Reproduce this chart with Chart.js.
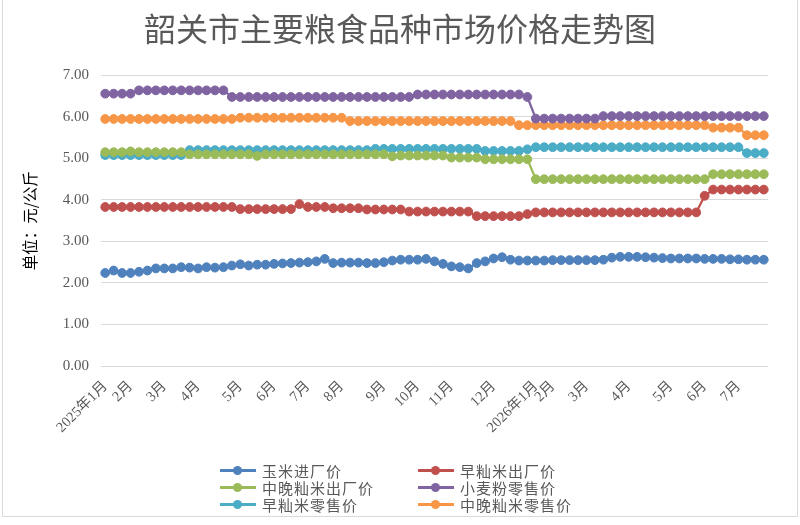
<!DOCTYPE html>
<html lang="zh-CN">
<head>
    <meta charset="UTF-8">
    <title>韶关市主要粮食品种市场价格走势图</title>
    <script src="https://cdn.jsdelivr.net/npm/chart.js"></script>
    <style>
        body {
            margin: 0;
            background: #ffffff;
            font-family: "Noto Sans CJK SC", sans-serif;
        }
        .wrap {
            position: relative;
            width: 800px;
            height: 525px;
        }
        .frame {
            position: absolute;
            left: 2px;
            top: -1px;
            width: 794px;
            height: 517px;
            border: 1px solid #d9d9d9;
            border-top: none;
            pointer-events: none;
        }
        .legend {
            position: absolute;
            left: 220px;
            top: 462px;
            display: grid;
            grid-template-columns: 198px 200px;
            row-gap: 0px;
        }
        .legend-item {
            display: flex;
            align-items: center;
            height: 17px;
            font-size: 15px;
            letter-spacing: 1px;
            color: #595959;
        }
        .legend-mark {
            position: relative;
            width: 36px;
            height: 3px;
            margin-right: 6px;
        }
        .legend-mark span {
            position: absolute;
            left: 13px;
            top: -3px;
            width: 9px;
            height: 9px;
            border-radius: 50%;
        }
    </style>
</head>
<body>
    <div class="wrap">
        <canvas id="priceChart" width="800" height="525"></canvas>
        <div class="legend" id="legend"></div>
        <div class="frame"></div>
    </div>

    <script>
        // 周度监测，标签只在每月第一周显示
        const weekLabels = [
            '2025年1月', '', '', '2月', '', '', '', '3月', '', '', '',
            '4月', '', '', '', '', '5月', '', '', '', '6月', '', '', '',
            '7月', '', '', '', '8月', '', '', '', '', '9月', '', '', '',
            '10月', '', '', '', '11月', '', '', '', '', '12月', '', '', '', '',
            '2026年1月', '', '2月', '', '', '', '3月', '', '', '', '',
            '4月', '', '', '', '', '5月', '', '', '', '6月', '', '', '',
            '7月', '', '', ''
        ];

        const cornPrice = [
            2.24, 2.30, 2.24, 2.24, 2.27, 2.30, 2.35, 2.35, 2.35, 2.38,
            2.37, 2.35, 2.38, 2.37, 2.38, 2.42, 2.45, 2.42, 2.44, 2.44,
            2.46, 2.47, 2.48, 2.49, 2.50, 2.52, 2.58, 2.48, 2.49, 2.49,
            2.49, 2.48, 2.48, 2.50, 2.54, 2.56, 2.56, 2.56, 2.58, 2.52,
            2.46, 2.40, 2.38, 2.35, 2.48, 2.52, 2.59, 2.62, 2.56, 2.54,
            2.54, 2.54, 2.54, 2.55, 2.55, 2.55, 2.55, 2.55, 2.55, 2.56,
            2.61, 2.63, 2.63, 2.63, 2.62, 2.61, 2.60, 2.59, 2.59, 2.59,
            2.59, 2.58, 2.58, 2.58, 2.57, 2.57, 2.56, 2.56, 2.56
        ];
        const earlyRiceFactory = [
            3.83, 3.83, 3.83, 3.83, 3.83, 3.83, 3.83, 3.83, 3.83, 3.83,
            3.83, 3.83, 3.83, 3.83, 3.83, 3.83, 3.78, 3.78, 3.78, 3.78,
            3.78, 3.78, 3.78, 3.90, 3.83, 3.83, 3.83, 3.80, 3.80, 3.80,
            3.80, 3.77, 3.77, 3.77, 3.77, 3.77, 3.72, 3.72, 3.72, 3.72,
            3.72, 3.72, 3.72, 3.72, 3.61, 3.61, 3.61, 3.61, 3.61, 3.61,
            3.66, 3.70, 3.70, 3.70, 3.70, 3.70, 3.70, 3.70, 3.70, 3.70,
            3.70, 3.70, 3.70, 3.70, 3.70, 3.70, 3.70, 3.70, 3.70, 3.70,
            3.70, 4.10, 4.25, 4.25, 4.25, 4.25, 4.25, 4.25, 4.25
        ];
        const lateRiceFactory = [
            5.15, 5.15, 5.15, 5.17, 5.15, 5.15, 5.15, 5.15, 5.15, 5.15,
            5.10, 5.10, 5.10, 5.10, 5.10, 5.10, 5.10, 5.10, 5.06, 5.10,
            5.10, 5.10, 5.10, 5.10, 5.10, 5.10, 5.10, 5.10, 5.10, 5.10,
            5.10, 5.10, 5.10, 5.10, 5.05, 5.07, 5.07, 5.07, 5.07, 5.07,
            5.07, 5.02, 5.02, 5.02, 5.02, 4.98, 4.98, 4.98, 4.98, 4.98,
            4.98, 4.50, 4.50, 4.50, 4.50, 4.50, 4.50, 4.50, 4.50, 4.50,
            4.50, 4.50, 4.50, 4.50, 4.50, 4.50, 4.50, 4.50, 4.50, 4.50,
            4.50, 4.50, 4.62, 4.62, 4.62, 4.62, 4.62, 4.62, 4.62
        ];
        const flourRetail = [
            6.56, 6.56, 6.56, 6.56, 6.64, 6.64, 6.64, 6.64, 6.64, 6.64,
            6.64, 6.64, 6.64, 6.64, 6.64, 6.48, 6.48, 6.48, 6.48, 6.48,
            6.48, 6.48, 6.48, 6.48, 6.48, 6.48, 6.48, 6.48, 6.48, 6.48,
            6.48, 6.48, 6.48, 6.48, 6.48, 6.48, 6.48, 6.54, 6.54, 6.54,
            6.54, 6.54, 6.54, 6.54, 6.54, 6.54, 6.54, 6.54, 6.54, 6.54,
            6.48, 5.96, 5.96, 5.96, 5.96, 5.96, 5.96, 5.96, 5.96, 6.02,
            6.02, 6.02, 6.02, 6.02, 6.02, 6.02, 6.02, 6.02, 6.02, 6.02,
            6.02, 6.02, 6.02, 6.02, 6.02, 6.02, 6.02, 6.02, 6.02
        ];
        const earlyRiceRetail = [
            5.08, 5.08, 5.08, 5.08, 5.08, 5.08, 5.08, 5.08, 5.08, 5.08,
            5.20, 5.20, 5.20, 5.20, 5.20, 5.20, 5.20, 5.20, 5.20, 5.20,
            5.20, 5.20, 5.20, 5.20, 5.20, 5.20, 5.20, 5.20, 5.20, 5.20,
            5.20, 5.20, 5.23, 5.23, 5.23, 5.23, 5.23, 5.23, 5.23, 5.23,
            5.23, 5.23, 5.23, 5.23, 5.23, 5.18, 5.18, 5.18, 5.18, 5.18,
            5.22, 5.27, 5.27, 5.27, 5.27, 5.27, 5.27, 5.27, 5.27, 5.27,
            5.27, 5.27, 5.27, 5.27, 5.27, 5.27, 5.27, 5.27, 5.27, 5.27,
            5.27, 5.27, 5.27, 5.27, 5.27, 5.27, 5.13, 5.13, 5.13
        ];
        const lateRiceRetail = [
            5.95, 5.95, 5.95, 5.95, 5.95, 5.95, 5.95, 5.95, 5.95, 5.95,
            5.95, 5.95, 5.95, 5.95, 5.95, 5.95, 5.98, 5.98, 5.98, 5.98,
            5.98, 5.98, 5.98, 5.98, 5.98, 5.98, 5.98, 5.98, 5.98, 5.90,
            5.90, 5.90, 5.90, 5.90, 5.90, 5.90, 5.90, 5.90, 5.90, 5.90,
            5.90, 5.90, 5.90, 5.90, 5.90, 5.90, 5.90, 5.90, 5.90, 5.80,
            5.80, 5.80, 5.80, 5.80, 5.80, 5.80, 5.80, 5.80, 5.80, 5.80,
            5.80, 5.80, 5.80, 5.80, 5.80, 5.80, 5.80, 5.80, 5.80, 5.80,
            5.80, 5.80, 5.74, 5.74, 5.74, 5.74, 5.56, 5.56, 5.56
        ];

        const seriesNames = ['玉米进厂价', '早籼米出厂价', '中晚籼米出厂价', '小麦粉零售价', '早籼米零售价', '中晚籼米零售价'];
        const seriesData = [cornPrice, earlyRiceFactory, lateRiceFactory, flourRetail, earlyRiceRetail, lateRiceRetail];
        const seriesColors = ['#4f81bd', '#c0504d', '#9bbb59', '#8064a2', '#4bacc6', '#f79646'];

        const serifFamily = '"Liberation Serif", "Noto Sans CJK SC", serif';

        const datasets = seriesNames.map((name, i) => ({
            label: name,
            data: seriesData[i],
            borderColor: seriesColors[i],
            backgroundColor: seriesColors[i],
            pointBackgroundColor: seriesColors[i],
            pointBorderColor: seriesColors[i],
            borderWidth: 2.25,
            pointRadius: 4.4,
            pointBorderWidth: 1,
            tension: 0
        }));

        const priceChart = new Chart(document.getElementById('priceChart'), {
            type: 'line',
            data: { labels: weekLabels, datasets: datasets },
            options: {
                responsive: false,
                animation: false,
                // 左右留白相同，标题才会居中
                layout: { padding: { left: 32, right: 32, top: 0, bottom: 80 } },
                plugins: {
                    legend: { display: false },
                    tooltip: { enabled: false },
                    title: {
                        display: true,
                        text: '韶关市主要粮食品种市场价格走势图',
                        color: '#595959',
                        font: { family: '"Noto Sans CJK SC", sans-serif', size: 32, weight: 'normal' },
                        padding: { top: 10, bottom: 27 }
                    }
                },
                scales: {
                    x: {
                        offset: true,
                        grid: { display: false },
                        border: { display: false },
                        ticks: {
                            autoSkip: false,
                            minRotation: 45,
                            maxRotation: 45,
                            color: '#595959',
                            font: { family: serifFamily, size: 14.5 },
                            padding: 4
                        },
                        afterFit: (scale) => { scale.height = 79; }
                    },
                    y: {
                        min: 0,
                        max: 7,
                        grid: { color: '#d9d9d9', lineWidth: 1, drawTicks: false },
                        border: { display: false },
                        ticks: {
                            stepSize: 1,
                            padding: 12,
                            color: '#595959',
                            font: { family: serifFamily, size: 15 },
                            callback: (v) => v.toFixed(2)
                        },
                        title: {
                            display: true,
                            text: '单位：元/公斤',
                            color: '#000000',
                            font: { family: '"Noto Sans CJK SC", sans-serif', size: 15.5 },
                            padding: { top: -11, bottom: 0 }
                        },
                        afterFit: (scale) => { scale.width = 69; }
                    }
                }
            }
        });

        // 两列图例，顺序与原图一致
        const legendBox = document.getElementById('legend');
        priceChart.data.datasets.forEach((ds) => {
            const item = document.createElement('div');
            item.className = 'legend-item';
            item.innerHTML = '<div class="legend-mark" style="background:' + ds.borderColor +
                '"><span style="background:' + ds.borderColor + '"></span></div>' + ds.label;
            legendBox.appendChild(item);
        });
    </script>
</body>
</html>
